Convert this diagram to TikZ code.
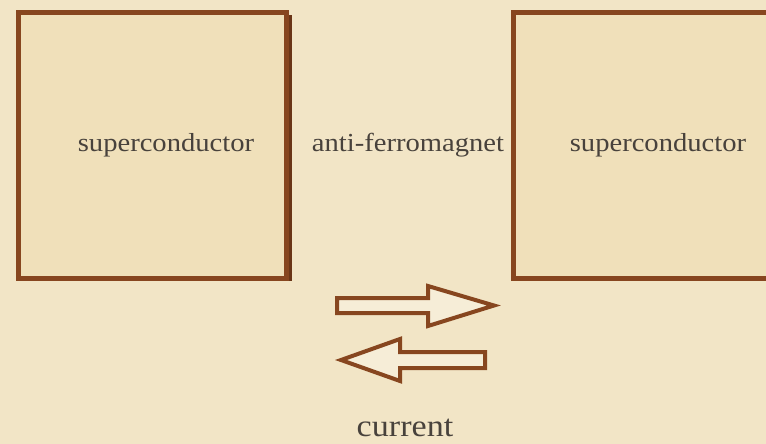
\documentclass[tikz,border=0pt]{standalone}
\usepackage{fontspec}
\setmainfont{Liberation Serif}[FakeStretch=1.1]
\definecolor{bg}{HTML}{F2E5C6}
\definecolor{boxfill}{HTML}{F0E0BA}
\definecolor{brown}{HTML}{87461F}
\definecolor{shadowc}{HTML}{6A3517}
\definecolor{txt}{HTML}{48423C}
\begin{document}
\begin{tikzpicture}[x=1pt,y=-1pt,
  panel/.style={draw=brown,line width=5pt,fill=boxfill,inner sep=0pt},
  lbl/.style={text=txt,font=\fontsize{26}{29}\selectfont,inner sep=0pt},
  biglbl/.style={text=txt,font=\fontsize{31}{34}\selectfont,inner sep=0pt},
  arrowshape/.style={draw=brown,line width=4pt,fill=bg!70!white,line join=miter}]
\useasboundingbox (0,0) rectangle (766,444);
\clip (0,0) rectangle (766,444);
\fill[bg] (0,0) rectangle (766,444);
% left box shadow and box
\fill[shadowc] (21,15.5) rectangle (292,281);
\node[panel,minimum width=268pt,minimum height=265.5pt] (sc1) at (152.5,145.25) {};
\node[panel,minimum width=280pt,minimum height=265.5pt] (sc2) at (653.5,145.25) {};
\node[lbl] (t1) at (166,145) {superconductor};
\node[lbl] (t2) at (658,145) {superconductor};
\node[lbl] (afm) at (408,145) {anti-ferromagnet};
\node[biglbl] (cur) at (405,428) {current};
% arrows
\draw[arrowshape] (337,298) -- (428,298) -- (428,286) -- (494,305.5) -- (428,326) -- (428,313) -- (337,313) -- cycle;
\draw[arrowshape] (485,352) -- (400,352) -- (400,339) -- (341,360) -- (400,381) -- (400,368) -- (485,368) -- cycle;
\end{tikzpicture}
\end{document}
